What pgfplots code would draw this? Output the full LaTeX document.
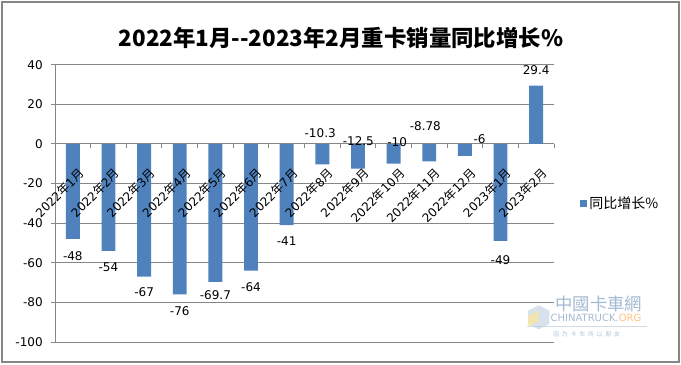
\documentclass[border=0pt]{standalone}
\usepackage{fontspec}
\setmainfont{DejaVu Sans}
\newfontfamily\cjk{Noto Sans CJK SC}
\usepackage{pgfplots}
\pgfplotsset{compat=1.18}
\definecolor{barblue}{HTML}{4F81BD}
\definecolor{gridgray}{HTML}{868686}
\definecolor{wmblue}{HTML}{7C9CC0}
\newcommand{\nian}{{\cjk 年}}
\newcommand{\yue}{{\cjk 月}}
\begin{document}
\begin{tikzpicture}[x=1pt,y=1pt]
\path[use as bounding box] (0,0) rectangle (510.75,273);
\begin{axis}[
  at={(41.25pt,16.5pt)}, anchor=south west,
  scale only axis, width=374.25pt, height=208pt,
  xmin=-0.5, xmax=13.5, ymin=-100, ymax=40,
  axis x line=middle, axis y line=left,
  axis line style={-, draw=gridgray, line width=0.75pt},
  x axis line style={-}, y axis line style={-},
  ytick={-100,-80,...,40},
  yticklabels={-100,-80,-60,-40,-20,0,20,40},
  ymajorgrids, grid style={draw=gridgray, line width=0.75pt},
  tick align=outside, xtick align=outside, ytick align=outside,
  major tick length=3pt, minor tick length=3pt,
  tick style={draw=gridgray, line width=0.75pt},
  xtick={0,...,13}, xticklabels={},
  major x tick style={draw=none},
  minor xtick={-0.5,0.5,...,13.5},
  yticklabel style={font=\fontsize{9}{11}\selectfont, inner sep=0pt, xshift=-6pt},
  legend style={draw=none, fill=none, at={(1,0.5)}, anchor=west, xshift=19pt,
    font=\fontsize{10.5}{12}\selectfont, inner sep=0pt},
  legend image code/.code={\fill[barblue] (0pt,-2.6pt) rectangle (5.25pt,2.6pt);},
  clip=false,
]
\addplot[ybar, fill=barblue, draw=none, bar width=0.39] table {
x y
0 -48
1 -54
2 -67
3 -76
4 -69.7
5 -64
6 -41
7 -10.3
8 -12.5
9 -10
10 -8.78
11 -6
12 -49
13 29.4
};
\addlegendentry{\cjk 同比增长\%}
% category labels (drawn above the bars, as in the reference)
\addplot[draw=none, mark=none, forget plot, nodes near coords, point meta=explicit symbolic,
  nodes near coords style={rotate=45, anchor=east, inner sep=0pt, xshift=-9.6pt, yshift=-19pt,
    font=\fontsize{9}{11}\selectfont}]
  coordinates {
  (0,0) [2022\nian1\yue] (1,0) [2022\nian2\yue] (2,0) [2022\nian3\yue] (3,0) [2022\nian4\yue]
  (4,0) [2022\nian5\yue] (5,0) [2022\nian6\yue] (6,0) [2022\nian7\yue] (7,0) [2022\nian8\yue]
  (8,0) [2022\nian9\yue] (9,0) [2022\nian10\yue] (10,0) [2022\nian11\yue] (11,0) [2022\nian12\yue]
  (12,0) [2023\nian1\yue] (13,0) [2023\nian2\yue]
  };
\addplot[draw=none, mark=none, forget plot, nodes near coords, point meta=explicit symbolic,
  nodes near coords style={anchor=center, inner sep=0pt, font=\fontsize{9}{11}\selectfont}]
  table[meta=lab] {
x y lab
0 -56.7 -48
1 -62.3 -54
2 -74.9 -67
3 -84.5 -76
4 -76.2 -69.7
5 -72.5 -64
6 -49.2 -41
6.94 5.4 -10.3
8.01 1.4 -12.5
9.1 0.9 -10
9.89 8.9 -8.78
11.41 2.4 -6
12 -58.8 -49
13 37.2 29.4
};
\end{axis}
\node[font=\cjk\bfseries\fontsize{16.8}{20}\selectfont] at (255.75,244.5) {2022年1月-{}-2023年2月重卡销量同比增长\%};
% watermark
\node[text=wmblue, opacity=0.7, font=\cjk\fontsize{13}{14}\selectfont] at (449,45) {中國卡車網};
\node[text=wmblue, opacity=0.7, font=\fontsize{7.5}{8}\selectfont] at (447,34.5) {CHINATRUCK.{\color{orange!70}ORG}};
\draw[wmblue!60, opacity=0.6, line width=0.6pt] (395,28) -- (485,28);
\node[text=wmblue, opacity=0.6, font=\cjk\fontsize{4.5}{5}\selectfont] at (440,22) {因\ \ 为\ \ 卡\ \ 车\ \ 所\ \ 以\ \ 朋\ \ 友};
\fill[wmblue!50, opacity=0.6] (396,40) -- (404,44) -- (412,40) -- (412,30) -- (404,26) -- (396,30) -- cycle;
\fill[yellow!60!orange!40, opacity=0.7] (396,36) -- (404,40) -- (404,32) -- (396,28) -- cycle;
\draw[gridgray, line width=1.5pt] (1.2,1.2) rectangle (509.5,271.8);
\end{tikzpicture}
\end{document}
